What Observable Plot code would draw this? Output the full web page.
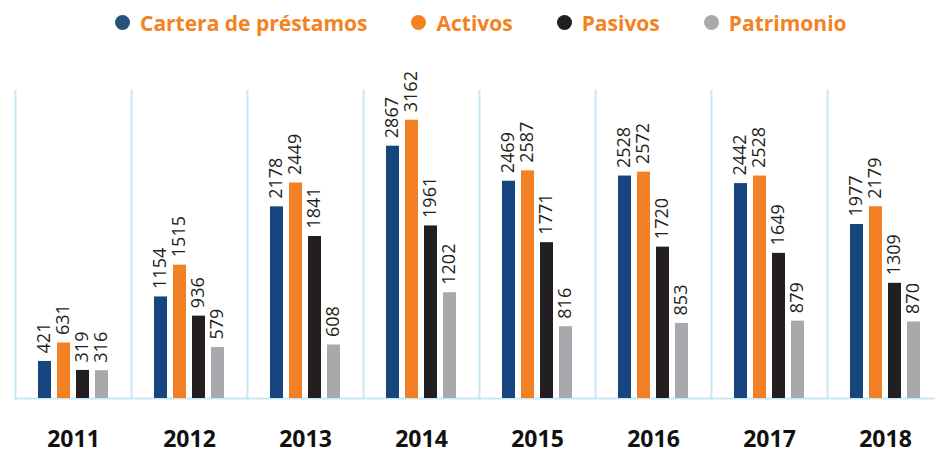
<!DOCTYPE html>
<html><head><meta charset="utf-8">
<script src="https://cdn.jsdelivr.net/npm/d3@7"></script>
<script src="https://cdn.jsdelivr.net/npm/@observablehq/plot@0.6"></script>
<style>
body{margin:0;background:#fff;font-family:"Open Sans",sans-serif;}
#legend{height:45px;display:flex;align-items:center;padding-left:115px;box-sizing:border-box;}
.item{display:flex;align-items:center;margin-right:44px;}
.dot{width:15px;height:15px;border-radius:50%;margin-right:10px;}
.lbl{color:#f58220;font-weight:700;font-size:21px;}
</style></head><body>
<div id="legend"></div><div id="chart"></div>
<script>
const years = ["2011","2012","2013","2014","2015","2016","2017","2018"];
const series = ["Cartera de préstamos","Activos","Pasivos","Patrimonio"];
const colors = ["#17457f","#f28125","#231f20","#a7a9ac"];
const legendColors = ["#26527b","#f58220","#231f20","#a7a9ac"];
const cartera = [421,1154,2178,2867,2469,2528,2442,1977];
const activos = [631,1515,2449,3162,2587,2572,2528,2179];
const pasivos = [319,936,1841,1961,1771,1720,1649,1309];
const patrimonio = [316,579,608,1202,816,853,879,870];

const cols = [cartera, activos, pasivos, patrimonio];
const data = [];
years.forEach((y,i)=>series.forEach((s,j)=>data.push({year:y, series:s, value:cols[j][i]})));

const legend = document.getElementById("legend");
series.forEach((s,j)=>{
  const it=document.createElement("div");it.className="item";
  const d=document.createElement("div");d.className="dot";d.style.background=legendColors[j];
  const l=document.createElement("span");l.className="lbl";l.textContent=s;
  it.append(d,l);legend.append(it);
});

const chart = Plot.plot({
  width: 935, height: 409,
  marginTop: 45, marginBottom: 56, marginLeft: 14, marginRight: -9,
  style: {fontFamily: "Open Sans, sans-serif", background: "#fff"},
  fx: {domain: years, padding: 0, label: null},
  x: {domain: series, paddingInner: 0.34, paddingOuter: 1.1, axis: null},
  y: {domain: [0, 3500], axis: null},
  color: {domain: series, range: colors},
  marks: [
    Plot.frame({anchor: "left", stroke: "#c9e6f5", strokeWidth: 2}),
    Plot.ruleY([0], {stroke: "#c9e6f5", strokeWidth: 2}),
    Plot.barY(data, {fx: "year", x: "series", y: "value", fill: "series"}),
    Plot.text(data, {fx: "year", x: "series", y: "value", text: d => String(d.value), rotate: -90, textAnchor: "start", dy: -8, dx: -1, fontSize: 18, fill: "#231f20", fontFamily: "Open Sans, sans-serif"}),
    Plot.axisFx({anchor: "bottom", tickSize: 0, tickPadding: 32, fontSize: 23, fontWeight: "bold", fill: "#111", label: null})
  ]
});
document.getElementById("chart").append(chart);
</script>
</body></html>
